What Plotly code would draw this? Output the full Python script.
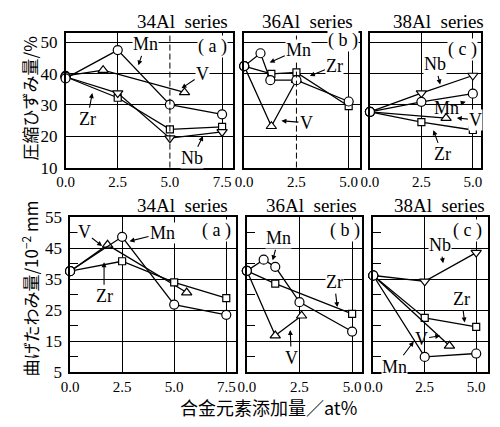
import plotly.graph_objects as go

W, H = 500, 427

# ---- Compression strain (%) ----
c34_mn_x = [0, 2.5, 5.0, 7.5]
c34_mn_y = [38.5, 47.5, 30.1, 27.0]
c34_v_x = [0, 1.8, 5.7]
c34_v_y = [39.3, 41.1, 34.0]
c34_zr_x = [0, 2.5, 5.0, 7.5]
c34_zr_y = [39.0, 32.3, 22.2, 23.0]
c34_nb_x = [0, 2.5, 5.0, 7.5]
c34_nb_y = [39.0, 33.8, 19.4, 21.4]

c36_mn_x = [0, 0.78, 1.25, 2.5, 5.0]
c36_mn_y = [42.4, 46.5, 37.9, 37.9, 31.1]
c36_zr_x = [0, 1.3, 2.5, 5.0]
c36_zr_y = [42.4, 39.9, 40.4, 29.6]
c36_v_x = [0, 1.3, 2.5]
c36_v_y = [42.4, 23.2, 37.9]

c38_nb_x = [0, 2.5, 5.0]
c38_nb_y = [27.8, 33.8, 39.4]
c38_mn_x = [0, 2.5, 5.0]
c38_mn_y = [27.8, 31.0, 33.6]
c38_v_x = [0, 3.7]
c38_v_y = [27.8, 25.8]
c38_zr_x = [0, 2.5, 5.0]
c38_zr_y = [27.8, 24.5, 22.0]

# ---- Bending deflection (10^-2 mm) ----
b34_mn_x = [0, 2.5, 5.0, 7.5]
b34_mn_y = [37.6, 48.7, 26.8, 23.5]
b34_v_x = [0, 1.8, 5.6]
b34_v_y = [37.6, 46.1, 30.7]
b34_zr_x = [0, 2.5, 5.0, 7.5]
b34_zr_y = [37.6, 40.8, 34.0, 28.9]

b36_mn_x = [0, 0.8, 1.35, 2.5, 5.0]
b36_mn_y = [37.7, 41.3, 39.0, 27.6, 18.1]
b36_zr_x = [0, 1.35, 5.0]
b36_zr_y = [37.7, 33.6, 23.8]
b36_v_x = [0, 1.35, 2.6]
b36_v_y = [37.7, 16.8, 23.2]

b38_nb_x = [0, 2.5, 5.0]
b38_nb_y = [36.2, 34.3, 43.6]
b38_zr_x = [0, 2.5, 5.0]
b38_zr_y = [36.2, 22.5, 19.6]
b38_v_x = [0, 3.7]
b38_v_y = [36.2, 13.5]
b38_mn_x = [0, 2.5, 5.0]
b38_mn_y = [36.2, 9.9, 11.0]

x_tick_vals = [0, 2.5, 5.0, 7.5]
x_tick_text = ["0.0", "2.5", "5.0", "7.5"]
top_y_ticks = [10, 20, 30, 40, 50]
bot_y_ticks = [5, 15, 25, 35, 45, 55]
bot_y_minor = [10, 20, 30, 40, 50]

panel_titles = ["34Al\u00a0 series", "36Al\u00a0 series", "38Al\u00a0 series"]
panel_tags = ["(\u00a0a\u00a0)", "(\u00a0b\u00a0)", "(\u00a0c\u00a0)"]

title_top = "\u5727\u7e2e\u3072\u305a\u307f\u91cf/%"
title_bot = "\u66f2\u3052\u305f\u308f\u307f\u91cf/10<sup>\u22122</sup> mm"
title_x = "\u5408\u91d1\u5143\u7d20\u6dfb\u52a0\u91cf\uff0fat%"

SERIF = "Liberation Serif"
JP = "Noto Sans CJK SC"

SYM = {"Mn": "circle", "V": "triangle-up", "Zr": "square", "Nb": "triangle-down"}
SIZE = {"circle": 9, "triangle-up": 9, "square": 7, "triangle-down": 9}


def px(x):
    return x / W


def py(y):
    return 1 - y / H


fig = go.Figure()


def add_series(xs, ys, elem, k):
    sym = SYM[elem]
    syms = ["circle"] + [sym] * (len(xs) - 1)
    sizes = [9] + [SIZE[sym]] * (len(xs) - 1)
    fig.add_trace(go.Scatter(
        x=xs, y=ys, mode="lines+markers", name=elem, showlegend=False,
        xaxis="x" if k == 1 else f"x{k}", yaxis="y" if k == 1 else f"y{k}",
        cliponaxis=False,
        line=dict(color="black", width=1.3),
        marker=dict(symbol=syms, size=sizes, color="#ffffff", opacity=1,
                    line=dict(color="black", width=1.2)),
    ))


# draw order: Mn last so the shared starting point shows as a circle
add_series(c34_v_x, c34_v_y, "V", 1)
add_series(c34_zr_x, c34_zr_y, "Zr", 1)
add_series(c34_nb_x, c34_nb_y, "Nb", 1)
add_series(c34_mn_x, c34_mn_y, "Mn", 1)

add_series(c36_v_x, c36_v_y, "V", 2)
add_series(c36_zr_x, c36_zr_y, "Zr", 2)
add_series(c36_mn_x, c36_mn_y, "Mn", 2)

add_series(c38_nb_x, c38_nb_y, "Nb", 3)
add_series(c38_v_x, c38_v_y, "V", 3)
add_series(c38_zr_x, c38_zr_y, "Zr", 3)
add_series(c38_mn_x, c38_mn_y, "Mn", 3)

add_series(b34_v_x, b34_v_y, "V", 4)
add_series(b34_zr_x, b34_zr_y, "Zr", 4)
add_series(b34_mn_x, b34_mn_y, "Mn", 4)

add_series(b36_v_x, b36_v_y, "V", 5)
add_series(b36_zr_x, b36_zr_y, "Zr", 5)
add_series(b36_mn_x, b36_mn_y, "Mn", 5)

add_series(b38_nb_x, b38_nb_y, "Nb", 6)
add_series(b38_zr_x, b38_zr_y, "Zr", 6)
add_series(b38_v_x, b38_v_y, "V", 6)
add_series(b38_mn_x, b38_mn_y, "Mn", 6)

# panel frames (pixel boxes) and axis ranges
panels = {
    1: dict(box=(57.7, 228.3, 25, 166), xr=[0, 8.01], yr=[10, 53]),
    2: dict(box=(240, 357.7, 25, 166), xr=[0, 5.52], yr=[10, 53]),
    3: dict(box=(368.3, 481.7, 25, 166), xr=[0, 5.4], yr=[10, 53]),
    4: dict(box=(62.3, 231.7, 218, 380), xr=[0, 7.97], yr=[5, 55]),
    5: dict(box=(242.7, 360, 218, 380), xr=[0, 5.46], yr=[5, 55]),
    6: dict(box=(371.7, 488.3, 218, 380), xr=[0, 5.55], yr=[5, 55]),
}

# vertical grid lines per panel: (solid, dashed)
vgrid = {
    1: ([2.5, 7.5], [5.0]),
    2: ([5.0], [2.5]),
    3: ([2.5, 5.0], []),
    4: ([2.5, 5.0, 7.5], []),
    5: ([2.5, 5.0], []),
    6: ([2.5, 5.0], []),
}

layout = {}
for k, p in panels.items():
    x0, x1, y0, y1 = p["box"]
    xn = "xaxis" if k == 1 else f"xaxis{k}"
    yn = "yaxis" if k == 1 else f"yaxis{k}"
    xa = "x" if k == 1 else f"x{k}"
    ya = "y" if k == 1 else f"y{k}"
    nt = 4 if k in (1, 4) else 3
    solid, dashed = vgrid[k]
    layout[xn] = dict(
        domain=[px(x0), px(x1)], range=p["xr"], anchor=ya,
        showline=True, mirror=True, linecolor="black", linewidth=1.5,
        tickmode="array", tickvals=x_tick_vals[:nt], ticktext=x_tick_text[:nt],
        ticks="", showgrid=False, zeroline=False,
        tickfont=dict(family=SERIF, size=15, color="black"),
        minor=dict(tickmode="array", tickvals=solid, showgrid=True,
                   gridcolor="black", gridwidth=1, ticks=""),
    )
    top = k <= 3
    ydict = dict(
        domain=[py(y1), py(y0)], range=p["yr"], anchor=xa,
        showline=True, mirror=True, linecolor="black", linewidth=1.5,
        tickmode="array", tickvals=top_y_ticks if top else bot_y_ticks,
        showgrid=True, gridcolor="black", gridwidth=1, zeroline=False,
        showticklabels=(k in (1, 4)), ticks="",
        tickfont=dict(family=SERIF, size=17, color="black"),
        ticklabelstandoff=3,
    )
    if not top:
        ydict["minor"] = dict(tickmode="array", tickvals=bot_y_minor,
                              ticks="inside", ticklen=8, tickwidth=1,
                              tickcolor="black", showgrid=False)
    layout[yn] = ydict
    for xv in dashed:
        fig.add_shape(type="line", xref=xa, yref=f"{ya} domain",
                      x0=xv, x1=xv, y0=0, y1=1,
                      line=dict(color="black", width=1, dash="6px,3px"))

annotations = []


def label(text, x, y, size=18, bg=True, head=None):
    """Text centred at pixel (x, y); optional arrow pointing to pixel head."""
    a = dict(
        text=text, xref="paper", yref="paper",
        font=dict(family=SERIF, size=size, color="black"),
        bgcolor="white" if bg else "rgba(0,0,0,0)", borderpad=0,
        xanchor="center", yanchor="middle")
    if head is None:
        a.update(x=px(x), y=py(y), showarrow=False)
    else:
        hx, hy = head
        a.update(x=px(hx), y=py(hy), ax=x - hx, ay=y - hy, showarrow=True,
                 arrowhead=2, arrowsize=0.9, arrowwidth=1.1,
                 arrowcolor="black", standoff=0, startstandoff=1)
    annotations.append(a)


# panel titles and tags
for k, cx in zip((1, 2, 3), (177, 305, 438)):
    label(panel_titles[k - 1], cx, 13, size=19, bg=False)
for k, cx in zip((4, 5, 6), (177, 309, 439)):
    label(panel_titles[k - 4], cx, 206, size=19, bg=False)
label(panel_tags[0], 208, 39)
label(panel_tags[1], 341, 33)
label(panel_tags[2], 463, 42)
label(panel_tags[0], 212, 232)
label(panel_tags[1], 343, 232)
label(panel_tags[2], 468, 232)

# top (a)
label("Mn", 139, 38, head=(132, 59))
label("V", 197, 69, head=(176, 83))
label("Zr", 80, 114, head=(85, 88))
label("Nb", 187, 155, head=(198, 133))
# top (b)
label("Mn", 295, 43, head=(266, 56))
label("Zr", 332, 60, head=(307, 70))
label("V", 303, 119, head=(278, 117))
# top (c)
label("Nb", 435, 59, head=(440, 79))
label("Mn", 447, 103, bg=False, head=(466, 97))
label("V", 476, 116, head=(457, 114))
label("Zr", 442, 151, head=(433, 127))
# bottom (a)
label("V", 77, 234, head=(95, 248))
label("Mn", 156, 235, head=(123, 243))
label("Zr", 97, 299, head=(97, 265))
# bottom (b)
label("Mn", 275, 241, head=(269, 263))
label("Zr", 332, 287, head=(335, 312))
label("V", 288, 364, head=(287, 336))
# bottom (c)
label("Nb", 440, 248, head=(443, 266))
label("Zr", 462, 305, head=(465, 328))
label("V", 421, 345, bg=False, head=(440, 342))
label("Mn", 394, 373, head=(413, 348))

# axis titles
annotations.append(dict(
    text=title_top, x=px(21), y=py(94), xref="paper", yref="paper",
    showarrow=False, textangle=-90, font=dict(family=JP, size=17, color="black"),
    xanchor="center", yanchor="middle"))
annotations.append(dict(
    text=title_bot, x=px(21), y=py(293),
    xref="paper", yref="paper", showarrow=False, textangle=-90,
    font=dict(family=JP, size=17, color="black"),
    xanchor="center", yanchor="middle"))
annotations.append(dict(
    text=title_x, x=px(265), y=py(417), xref="paper", yref="paper",
    showarrow=False, font=dict(family=JP, size=18, color="black"),
    xanchor="center", yanchor="middle"))

fig.update_layout(
    width=W, height=H, margin=dict(l=0, r=0, t=0, b=0),
    paper_bgcolor="white", plot_bgcolor="white",
    annotations=annotations, showlegend=False, **layout,
)

fig.write_html("out.html")
